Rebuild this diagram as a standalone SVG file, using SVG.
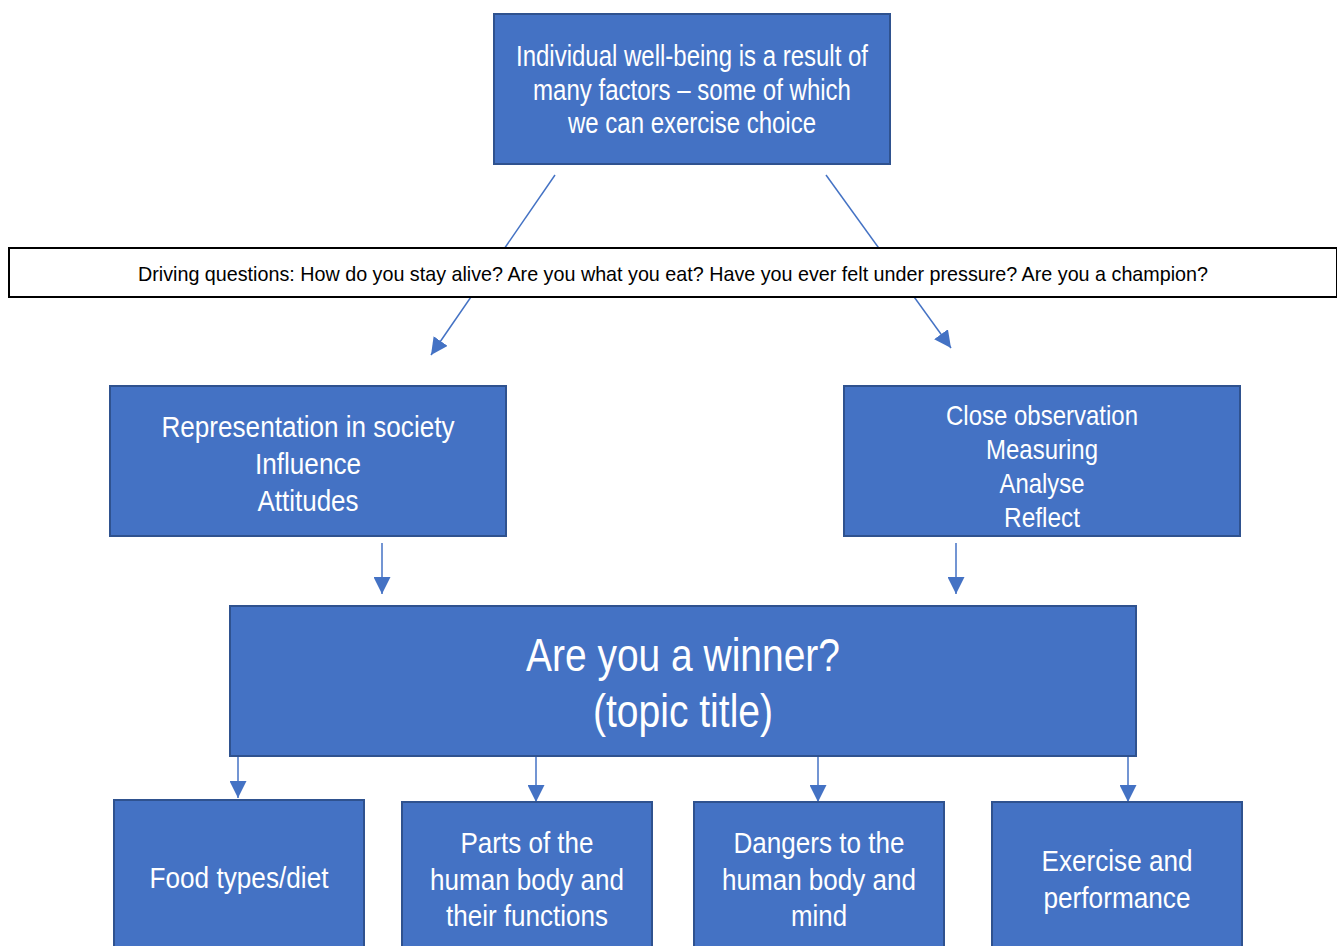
<svg xmlns="http://www.w3.org/2000/svg" width="1337" height="946" viewBox="0 0 1337 946">
<defs>
<style>
.box{fill:#4472C4;stroke:#2F528F;stroke-width:2}
.t{fill:#fff;font-family:"Liberation Sans Narrow","Liberation Sans",Arial,sans-serif;text-anchor:middle}
.c{stroke:#4472C4;stroke-width:1.5;fill:none}
.q{fill:#000;font-family:"Liberation Sans Narrow","Liberation Sans",Arial,sans-serif;text-anchor:middle;font-size:21px}
</style>
<marker id="ah2" viewBox="0 0 10 10" refX="10" refY="5" markerWidth="17" markerHeight="17" markerUnits="userSpaceOnUse" orient="auto">
<path d="M0,0 L10,5 L0,10 z" fill="#4472C4"/>
</marker>
</defs>
<g id="connectors">
<line class="c" x1="555" y1="175" x2="431" y2="355" marker-end="url(#ah2)"/>
<line class="c" x1="826" y1="175" x2="951" y2="348" marker-end="url(#ah2)"/>
<line class="c" x1="382" y1="543" x2="382" y2="594" marker-end="url(#ah2)"/>
<line class="c" x1="956" y1="543" x2="956" y2="594" marker-end="url(#ah2)"/>
<line class="c" x1="238" y1="757" x2="238" y2="798" marker-end="url(#ah2)"/>
<line class="c" x1="536" y1="757" x2="536" y2="802" marker-end="url(#ah2)"/>
<line class="c" x1="818" y1="757" x2="818" y2="802" marker-end="url(#ah2)"/>
<line class="c" x1="1128" y1="757" x2="1128" y2="802" marker-end="url(#ah2)"/>
</g>
<g id="top">
<rect class="box" x="494" y="14" width="396" height="150"/>
<text class="t" font-size="29"><tspan x="692" y="66" textLength="352" lengthAdjust="spacingAndGlyphs">Individual well-being is a result of</tspan><tspan x="692" y="100" textLength="318" lengthAdjust="spacingAndGlyphs">many factors – some of which</tspan><tspan x="692" y="133" textLength="248" lengthAdjust="spacingAndGlyphs">we can exercise choice</tspan></text>
</g>
<g id="driving">
<rect x="9" y="248" width="1328" height="49" fill="#fff" stroke="#000" stroke-width="2"/>
<text class="q" x="673" y="281" textLength="1070" lengthAdjust="spacingAndGlyphs">Driving questions: How do you stay alive? Are you what you eat? Have you ever felt under pressure? Are you a champion?</text>
</g>
<g id="representation">
<rect class="box" x="110" y="386" width="396" height="150"/>
<text class="t" font-size="29"><tspan x="308" y="437" textLength="293" lengthAdjust="spacingAndGlyphs">Representation in society</tspan><tspan x="308" y="474" textLength="106" lengthAdjust="spacingAndGlyphs">Influence</tspan><tspan x="308" y="511" textLength="101" lengthAdjust="spacingAndGlyphs">Attitudes</tspan></text>
</g>
<g id="observation">
<rect class="box" x="844" y="386" width="396" height="150"/>
<text class="t" font-size="28"><tspan x="1042" y="425" textLength="192" lengthAdjust="spacingAndGlyphs">Close observation</tspan><tspan x="1042" y="459" textLength="112" lengthAdjust="spacingAndGlyphs">Measuring</tspan><tspan x="1042" y="493" textLength="85" lengthAdjust="spacingAndGlyphs">Analyse</tspan><tspan x="1042" y="527" textLength="76" lengthAdjust="spacingAndGlyphs">Reflect</tspan></text>
</g>
<g id="main">
<rect class="box" x="230" y="606" width="906" height="150"/>
<text class="t" font-size="46"><tspan x="683" y="671" textLength="314" lengthAdjust="spacingAndGlyphs">Are you a winner?</tspan><tspan x="683" y="727" textLength="180" lengthAdjust="spacingAndGlyphs">(topic title)</tspan></text>
</g>
<g id="food">
<rect class="box" x="114" y="800" width="250" height="150"/>
<text class="t" font-size="29" x="239" y="888" textLength="179" lengthAdjust="spacingAndGlyphs">Food types/diet</text>
</g>
<g id="parts">
<rect class="box" x="402" y="802" width="250" height="150"/>
<text class="t" font-size="29"><tspan x="527" y="853" textLength="133" lengthAdjust="spacingAndGlyphs">Parts of the</tspan><tspan x="527" y="890" textLength="194" lengthAdjust="spacingAndGlyphs">human body and</tspan><tspan x="527" y="926" textLength="162" lengthAdjust="spacingAndGlyphs">their functions</tspan></text>
</g>
<g id="dangers">
<rect class="box" x="694" y="802" width="250" height="150"/>
<text class="t" font-size="29"><tspan x="819" y="853" textLength="171" lengthAdjust="spacingAndGlyphs">Dangers to the</tspan><tspan x="819" y="890" textLength="194" lengthAdjust="spacingAndGlyphs">human body and</tspan><tspan x="819" y="926" textLength="56" lengthAdjust="spacingAndGlyphs">mind</tspan></text>
</g>
<g id="exercise">
<rect class="box" x="992" y="802" width="250" height="150"/>
<text class="t" font-size="29"><tspan x="1117" y="871" textLength="151" lengthAdjust="spacingAndGlyphs">Exercise and</tspan><tspan x="1117" y="908" textLength="147" lengthAdjust="spacingAndGlyphs">performance</tspan></text>
</g>
</svg>
